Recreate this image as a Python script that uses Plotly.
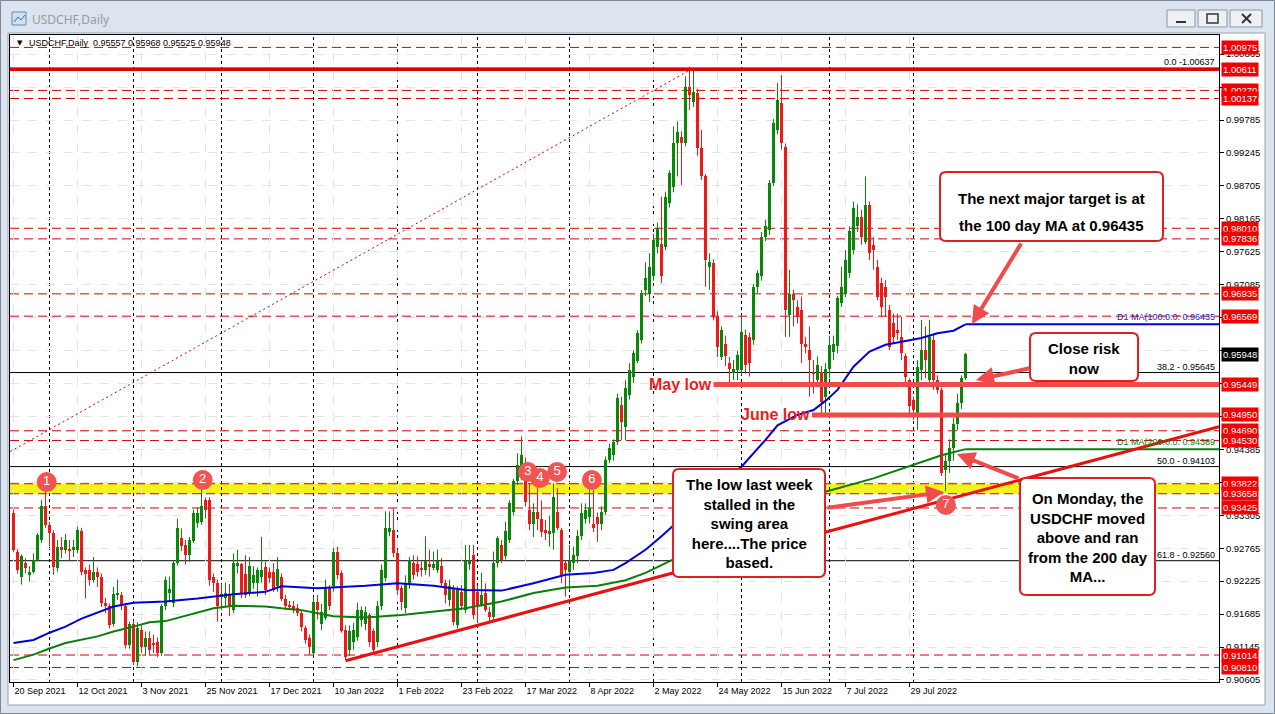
import plotly.graph_objects as go
import pandas as pd

# ---------------- data ----------------
opens = [
    .9334, .9271, .9230, .9252, .9233, .9238, .9257, .9290, .9345, .9315,
    .9301, .9244, .9279, .9273, .9276, .9273, .9273, .9304, .9240, .9240,
    .9224, .9237, .9230, .9186, .9181, .9153, .9200, .9200, .9181, .9118,
    .9153, .9090, .9143, .9115, .9130, .9120, .9122, .9104, .9181, .9203,
    .9186, .9252, .9293, .9282, .9265, .9288, .9318, .9320, .9355, .9356,
    .9230, .9220, .9196, .9195, .9200, .9175, .9247, .9250, .9235, .9203,
    .9220, .9220, .9230, .9246, .9238, .9238, .9214, .9230, .9194, .9184,
    .9181, .9178, .9170, .9145, .9130, .9104, .9189, .9153, .9162, .9211,
    .9214, .9271, .9236, .9143, .9110, .9123, .9131, .9159, .9153, .9167,
    .9140, .9123, .9181, .9227, .9303, .9307, .9268, .9211, .9178, .9219,
    .9252, .9250, .9244, .9241, .9250, .9244, .9241, .9247, .9219, .9192,
    .9211, .9151, .9205, .9175, .9252, .9265, .9205, .9184, .9203, .9172,
    .9164, .9252, .9282, .9263, .9290, .9336, .9386, .9396, .9413, .9339,
    .9317, .9336, .9325, .9306, .9301, .9301, .9336, .9306, .9252, .9238,
    .9252, .9263, .9296, .9325, .9328, .9317, .9328, .9317, .9336, .9421,
    .9430, .9451, .9511, .9476, .9528, .9558, .9583, .9618, .9700, .9694,
    .9722, .9771, .9776, .9771, .9842, .9869, .9940, .9951, .9940, 1.0033,
    1.0008, 1.0022, .9932, .9886, .9738, .9744, .9656, .9590, .9612, .9580,
    .9563, .9569, .9569, .9626, .9623, .9618, .9705, .9722, .9787, .9798,
    .9875, .9962, 1.0006, .9935, .9659, .9694, .9672, .9667, .9612, .9601,
    .9566, .9552, .9566, .9525, .9570, .9598, .9608, .9678, .9694, .9727,
    .9765, .9804, .9820, .9779, .9839, .9774, .9738, .9711, .9705, .9667,
    .9645, .9634, .9623, .9591, .9552, .9520, .9492, .9569, .9602, .9552,
    .9618, .9552, .9536, .9405, .9420, .9440, .9480, .9515, .95557,
]
highs = [
    .9340, .9275, .9266, .9260, .9247, .9268, .9301, .9356, .9372, .9320,
    .9306, .9290, .9295, .9300, .9290, .9290, .9312, .9310, .9245, .9250,
    .9262, .9245, .9235, .9195, .9186, .9213, .9225, .9205, .9186, .9156,
    .9158, .9155, .9150, .9140, .9140, .9135, .9130, .9185, .9230, .9230,
    .9257, .9325, .9309, .9290, .9295, .9340, .9343, .9373, .9360, .9360,
    .9235, .9225, .9218, .9220, .9218, .9268, .9274, .9252, .9265, .9262,
    .9247, .9245, .9295, .9255, .9245, .9252, .9262, .9235, .9200, .9190,
    .9190, .9185, .9175, .9150, .9135, .9196, .9200, .9185, .9225, .9216,
    .9277, .9279, .9240, .9150, .9150, .9154, .9187, .9181, .9181, .9170,
    .9145, .9190, .9250, .9337, .9337, .9342, .9275, .9215, .9232, .9262,
    .9265, .9263, .9255, .9296, .9274, .9271, .9274, .9260, .9225, .9225,
    .9216, .9214, .9216, .9282, .9282, .9282, .9214, .9236, .9219, .9180,
    .9271, .9296, .9290, .9320, .9355, .9390, .9432, .9460, .9425, .9383,
    .9350, .9377, .9355, .9323, .9330, .9383, .9375, .9310, .9257, .9282,
    .9279, .9306, .9350, .9350, .9375, .9372, .9335, .9345, .9427, .9448,
    .9455, .9530, .9525, .9552, .9580, .9601, .9634, .9700, .9745, .9760,
    .9792, .9810, .9853, .9861, .9896, .9968, .9976, .9960, 1.0050, 1.0066,
    1.0064, 1.0030, .9962, .9890, .9760, .9750, .9665, .9640, .9625, .9590,
    .9585, .9600, .9659, .9635, .9630, .9710, .9732, .9795, .9815, .9880,
    .9980, 1.0039, 1.0052, .9940, .9733, .9700, .9683, .9689, .9623, .9640,
    .9585, .9591, .9575, .9580, .9625, .9625, .9690, .9738, .9765, .9804,
    .9845, .9840, .9831, .9886, .9845, .9787, .9749, .9720, .9716, .9675,
    .9661, .9661, .9656, .9596, .9555, .9525, .9585, .9651, .9640, .9651,
    .9629, .9560, .9540, .9432, .9455, .9490, .9530, .9560, .95968,
]
lows = [
    .9270, .9235, .9217, .9235, .9222, .9235, .9255, .9285, .9310, .9279,
    .9233, .9238, .9260, .9268, .9255, .9262, .9268, .9232, .9194, .9215,
    .9220, .9213, .9180, .9170, .9145, .9148, .9192, .9175, .9112, .9112,
    .9085, .9083, .9105, .9100, .9100, .9105, .9098, .9100, .9175, .9190,
    .9180, .9248, .9272, .9250, .9254, .9285, .9310, .9315, .9325, .9215,
    .9205, .9156, .9175, .9180, .9165, .9170, .9235, .9195, .9195, .9198,
    .9210, .9197, .9220, .9200, .9220, .9205, .9205, .9190, .9175, .9175,
    .9170, .9165, .9140, .9120, .9102, .9100, .9160, .9142, .9159, .9175,
    .9205, .9225, .9138, .9093, .9100, .9110, .9125, .9148, .9142, .9115,
    .9104, .9115, .9175, .9222, .9296, .9262, .9200, .9175, .9170, .9210,
    .9225, .9230, .9230, .9233, .9230, .9240, .9236, .9214, .9186, .9181,
    .9150, .9145, .9175, .9170, .9241, .9160, .9154, .9181, .9172, .9155,
    .9159, .9245, .9252, .9258, .9285, .9330, .9380, .9388, .9345, .9306,
    .9295, .9306, .9295, .9290, .9279, .9274, .9306, .9219, .9197, .9208,
    .9241, .9252, .9290, .9317, .9317, .9303, .9287, .9306, .9331, .9416,
    .9420, .9446, .9454, .9454, .9520, .9547, .9580, .9612, .9690, .9680,
    .9715, .9760, .9711, .9765, .9835, .9860, .9886, .9872, .9935, .9995,
    1.0000, .9920, .9880, .9705, .9700, .9650, .9590, .9585, .9575, .9545,
    .9552, .9552, .9560, .9563, .9558, .9610, .9695, .9715, .9780, .9790,
    .9870, .9955, .9930, .9623, .9623, .9640, .9645, .9580, .9596, .9525,
    .9530, .9541, .9496, .9495, .9555, .9585, .9596, .9672, .9688, .9720,
    .9758, .9795, .9774, .9775, .9749, .9733, .9683, .9656, .9656, .9601,
    .9612, .9618, .9585, .9547, .9498, .9487, .9470, .9552, .9555, .9541,
    .9536, .9530, .9395, .9370, .9400, .9420, .9470, .9505, .95525,
]
closes = [
    .9274, .9241, .9263, .9244, .9238, .9257, .9298, .9345, .9315, .9301,
    .9246, .9279, .9273, .9290, .9273, .9279, .9306, .9238, .9234, .9224,
    .9237, .9230, .9186, .9181, .9151, .9202, .9203, .9181, .9118, .9153,
    .9090, .9145, .9115, .9130, .9110, .9118, .9104, .9181, .9224, .9210,
    .9252, .9309, .9280, .9265, .9290, .9334, .9334, .9345, .9339, .9224,
    .9220, .9181, .9202, .9203, .9181, .9252, .9252, .9203, .9200, .9247,
    .9232, .9241, .9241, .9208, .9227, .9208, .9243, .9194, .9181, .9181,
    .9175, .9170, .9148, .9126, .9115, .9189, .9175, .9172, .9211, .9181,
    .9271, .9233, .9140, .9098, .9140, .9143, .9175, .9175, .9172, .9123,
    .9110, .9181, .9241, .9309, .9309, .9268, .9208, .9189, .9219, .9257,
    .9233, .9238, .9241, .9255, .9247, .9250, .9255, .9219, .9200, .9214,
    .9156, .9208, .9181, .9255, .9255, .9167, .9181, .9200, .9175, .9164,
    .9252, .9293, .9258, .9304, .9350, .9386, .9413, .9430, .9353, .9317,
    .9336, .9325, .9303, .9301, .9304, .9361, .9309, .9233, .9241, .9255,
    .9265, .9296, .9334, .9339, .9342, .9309, .9317, .9336, .9421, .9440,
    .9451, .9522, .9484, .9539, .9569, .9596, .9629, .9695, .9719, .9738,
    .9782, .9801, .9722, .9853, .9891, .9940, .9959, .9940, 1.0033, 1.0020,
    1.0025, .9932, .9886, .9749, .9746, .9656, .9607, .9634, .9591, .9571,
    .9571, .9593, .9631, .9577, .9580, .9705, .9727, .9787, .9804, .9875,
    .9973, 1.0011, .9940, .9667, .9694, .9683, .9656, .9612, .9607, .9585,
    .9563, .9577, .9517, .9570, .9610, .9612, .9686, .9705, .9749, .9796,
    .9834, .9820, .9787, .9839, .9760, .9765, .9689, .9672, .9689, .9607,
    .9623, .9629, .9596, .9558, .9509, .9503, .9574, .9602, .9585, .9623,
    .9552, .9536, .9400, .9420, .9440, .9480, .9515, .9556, .95948,
]

# moving averages (bar index, value)
ma100_idx = [0, 5, 9, 13, 17, 21, 25, 30, 38, 46, 55, 63, 67, 76, 88, 96, 105, 113,
             122, 130, 138, 145, 150, 153, 158, 162, 165, 172, 177, 182, 188, 191,
             196, 200, 203, 206, 210, 214, 218, 222, 227, 231, 235, 238]
ma100_val = [.9121, .9126, .9138, .9148, .9161, .9171, .9181, .9187, .9189, .9194,
             .9201, .9205, .9214, .9211, .9215, .9219, .9215, .9208, .9207, .9219,
             .9233, .9236, .9241, .9252, .9274, .9296, .9314, .9355, .9385, .9410,
             .9454, .9478, .9495, .9503, .9518, .9536, .9574, .9599, .9610, .9615,
             .9621, .9629, .9633, .96435]
ma200_idx = [0, 5, 9, 13, 21, 25, 30, 34, 38, 42, 46, 50, 55, 63, 67, 72, 80, 88, 97,
             105, 113, 117, 122, 130, 138, 146, 153, 158, 165, 175, 185, 195, 203,
             215, 225, 232, 238]
ma200_val = [.9093, .9102, .9112, .9121, .9132, .9140, .9148, .9155, .9157, .9164,
             .9170, .9178, .9182, .9181, .9178, .9175, .9165, .9163, .9167, .9173,
             .9178, .9183, .9189, .9203, .9212, .9215, .9224, .9236, .9258, .9290,
             .9325, .9350, .9369, .9391, .9413, .9429, .94389]
ma100_text = "D1 MA(100:0:0: 0.96435"
ma200_text = "D1 MA(200:0:0: 0.94389"

trend_idx = [83, 301.375]
trend_val = [0.90921, 0.94757]

fib_anchor_idx = [-185, 170]
fib_anchor_val = [0.87569, 1.00637]
fib_levels = [1.00637, 0.95645, 0.94103, 0.92560]
fib_texts = ["0.0 -1.00637", "38.2 - 0.95645", "50.0 - 0.94103", "61.8 - 0.92560"]

x_tick_labels = ["20 Sep 2021", "12 Oct 2021", "3 Nov 2021", "25 Nov 2021",
                 "17 Dec 2021", "10 Jan 2022", "1 Feb 2022", "23 Feb 2022",
                 "17 Mar 2022", "8 Apr 2022", "2 May 2022", "24 May 2022",
                 "15 Jun 2022", "7 Jul 2022", "29 Jul 2022"]
y_tick_values = ["0.90605", "0.91145", "0.91685", "0.92225", "0.92765", "0.93305",
                 "0.93845", "0.94385", "0.94925", "0.95465", "0.96005", "0.96545",
                 "0.97085", "0.97625", "0.98165", "0.98705", "0.99245", "0.99785",
                 "1.00325", "1.00865"]
# tick labels fully covered by price tags in the reference
y_tick_hidden = ["0.93845", "0.94925", "0.95465", "0.96005", "0.96545", "1.00325"]

dashed_levels = [1.00975, 1.00270, 1.00137, 0.98010, 0.97836, 0.96935, 0.96569,
                 0.94690, 0.94530, 0.93822, 0.93658, 0.93425, 0.91014, 0.90810]
thick_level = 1.00611
band_levels = [0.93658, 0.93822]
support_levels = [0.95449, 0.94950]
support_start_idx = [175, 199.6]
support_names = ["May low", "June low"]
price_tags = [1.00975, 1.00611, 1.00270, 1.00137, 0.98010, 0.97836, 0.96935, 0.96569,
              0.95449, 0.94950, 0.94690, 0.94530, 0.93822, 0.93658, 0.93425,
              0.91014, 0.90810]
last_price = 0.95948

swing_labels = ["1", "2", "3", "4", "5", "6", "7"]
swing_idx = [8.3, 47.3, 128.6, 131.6, 135.9, 144.6, 233.1]
swing_val = [0.93851, 0.93883, 0.94015, 0.93916, 0.94015, 0.93883, 0.93474]

header_text = "USDCHF,Daily  0.95557 0.95968 0.95525 0.95948"

# ---------------- geometry helpers ----------------
W, H = 1275, 714
L, R, T, B = 10, 56, 35, 32
PW, PH = W - L - R, H - T - B
X_MIN, X_MAX = -0.875, 301.375
Y_MIN, Y_MAX = 0.905718, 1.011784


def PX(x):
    return (x - L) / PW


def PY(y):
    return (H - B - y) / PH


FONT = "Liberation Sans, Arial, sans-serif"
RED_DASH = "#d80000"
SALMON = "#f04a4a"

dates = pd.bdate_range("2021-09-20", periods=len(closes))
month_sep = [i for i in range(1, len(dates)) if dates[i].month != dates[i - 1].month]

fig = go.Figure()
shapes = []
annotations = []

# window chrome
shapes.append(dict(type="rect", xref="paper", yref="paper", x0=PX(8), x1=PX(1265),
                   y0=PY(705), y1=PY(33), fillcolor="white",
                   line=dict(color="#98a4b3", width=1), layer="below"))
shapes.append(dict(type="rect", xref="paper", yref="paper", x0=PX(0.5), x1=PX(1274.5),
                   y0=PY(713.5), y1=PY(0.5), line=dict(color="#7c8797", width=1),
                   layer="above"))
shapes.append(dict(type="rect", xref="paper", yref="paper", x0=PX(12), x1=PX(26),
                   y0=PY(25), y1=PY(12), fillcolor="#cfe0f2",
                   line=dict(color="#6f88a8", width=1), layer="above"))
shapes.append(dict(type="path", xref="paper", yref="paper",
                   path="M {},{} L {},{} L {},{} L {},{}".format(
                       PX(14), PY(22), PX(18), PY(17), PX(21), PY(20), PX(25), PY(15)),
                   line=dict(color="#4a6a94", width=1), layer="above"))
annotations.append(dict(xref="paper", yref="paper", x=PX(30), y=PY(19), xanchor="left",
                        yanchor="middle", text="USDCHF,Daily", showarrow=False,
                        font=dict(family="Noto Sans, sans-serif", size=12, color="#9a9a9a")))
for bx0, bx1 in [(1167, 1195), (1198, 1227), (1230, 1262)]:
    shapes.append(dict(type="rect", xref="paper", yref="paper", x0=PX(bx0), x1=PX(bx1),
                       y0=PY(27), y1=PY(10), fillcolor="#edf1f6",
                       line=dict(color="#8a95a3", width=1), layer="above"))
shapes.append(dict(type="line", xref="paper", yref="paper", x0=PX(1176), x1=PX(1186),
                   y0=PY(22), y1=PY(22), line=dict(color="#333", width=2), layer="above"))
shapes.append(dict(type="rect", xref="paper", yref="paper", x0=PX(1207), x1=PX(1218),
                   y0=PY(23), y1=PY(14), line=dict(color="#333", width=1.5), layer="above"))
shapes.append(dict(type="line", xref="paper", yref="paper", x0=PX(1242), x1=PX(1251),
                   y0=PY(14), y1=PY(23), line=dict(color="#333", width=2), layer="above"))
shapes.append(dict(type="line", xref="paper", yref="paper", x0=PX(1242), x1=PX(1251),
                   y0=PY(23), y1=PY(14), line=dict(color="#333", width=2), layer="above"))

# yellow swing band
shapes.append(dict(type="rect", xref="paper", yref="y", x0=0, x1=1,
                   y0=band_levels[0], y1=band_levels[1], fillcolor="#f2f21c",
                   line=dict(width=0), layer="below"))
# month separators
for i in month_sep:
    shapes.append(dict(type="line", xref="x", yref="paper", x0=i, x1=i, y0=0, y1=1,
                       line=dict(color="black", width=1, dash="3px,3px"), layer="below"))
# dashed horizontal levels
for lv in dashed_levels:
    shapes.append(dict(type="line", xref="paper", yref="y", x0=0, x1=1, y0=lv, y1=lv,
                       line=dict(color=RED_DASH, width=1, dash="9px,5px"), layer="below"))
# fib level lines
for lv in fib_levels:
    shapes.append(dict(type="line", xref="paper", yref="y", x0=0, x1=1, y0=lv, y1=lv,
                       line=dict(color="black", width=1), layer="below"))
# thick solid red level
shapes.append(dict(type="line", xref="paper", yref="y", x0=0, x1=1, y0=thick_level,
                   y1=thick_level, line=dict(color="#e00000", width=3), layer="above"))
# support rays
for lv, st in zip(support_levels, support_start_idx):
    shapes.append(dict(type="line", xref="x", yref="y", x0=st, x1=X_MAX, y0=lv, y1=lv,
                       line=dict(color=SALMON, width=5), layer="above"))

# candles
bull = [c >= o for o, c in zip(opens, closes)]
body_base = [min(o, c) for o, c in zip(opens, closes)]
body_h = [max(abs(c - o), 0.00004) for o, c in zip(opens, closes)]
GREEN, REDC = "#0a870a", "#ee1a1a"
for flag, col in [(True, GREEN), (False, REDC)]:
    wx, wy = [], []
    for i in range(len(closes)):
        if bull[i] == flag:
            wx += [i, i, None]
            wy += [lows[i], highs[i], None]
    fig.add_trace(go.Scatter(x=wx, y=wy, mode="lines", line=dict(color=col, width=1),
                             hoverinfo="skip", showlegend=False))
fig.add_trace(go.Bar(x=list(range(len(closes))), y=body_h, base=body_base, width=0.75,
                     marker=dict(color=[GREEN if b else REDC for b in bull], line=dict(width=0)),
                     hoverinfo="skip", showlegend=False))

# fib diagonal
fig.add_trace(go.Scatter(x=fib_anchor_idx, y=fib_anchor_val, mode="lines",
                         line=dict(color="#d00000", width=1, dash="2px,3px"),
                         hoverinfo="skip", showlegend=False))
# moving averages
fig.add_trace(go.Scatter(x=ma200_idx, y=ma200_val, mode="lines",
                         line=dict(color="#0a7d0a", width=2), hoverinfo="skip", showlegend=False))
fig.add_trace(go.Scatter(x=[ma200_idx[-1], X_MAX], y=[ma200_val[-1], ma200_val[-1]], mode="lines",
                         line=dict(color="#0a7d0a", width=2), hoverinfo="skip", showlegend=False))
fig.add_trace(go.Scatter(x=ma100_idx, y=ma100_val, mode="lines",
                         line=dict(color="#0000d8", width=2), hoverinfo="skip", showlegend=False))
fig.add_trace(go.Scatter(x=[ma100_idx[-1], X_MAX], y=[ma100_val[-1], ma100_val[-1]], mode="lines",
                         line=dict(color="#0000d8", width=2), hoverinfo="skip", showlegend=False))
# trendline
fig.add_trace(go.Scatter(x=trend_idx, y=trend_val, mode="lines",
                         line=dict(color="#e81010", width=3), hoverinfo="skip", showlegend=False))
# swing markers
fig.add_trace(go.Scatter(x=swing_idx, y=swing_val, mode="markers+text", text=swing_labels,
                         textposition="middle center", cliponaxis=False,
                         textfont=dict(family=FONT, size=13, color="white"),
                         marker=dict(size=20, color="#f25454", line=dict(width=0)),
                         hoverinfo="skip", showlegend=False))

# support names
for lv, st, nm in zip(support_levels, support_start_idx, support_names):
    annotations.append(dict(x=st, y=lv, xref="x", yref="y", xanchor="right", yanchor="middle",
                            text="<b>" + nm + "</b>", showarrow=False,
                            font=dict(family=FONT, size=16, color="#ee1c1c")))
# fib texts
for lv, tx in zip(fib_levels, fib_texts):
    annotations.append(dict(x=PX(1217), y=lv, xref="paper", yref="y", xanchor="right",
                            yanchor="bottom", text=tx, showarrow=False, yshift=-1,
                            font=dict(family=FONT, size=9, color="black")))
annotations.append(dict(x=PX(1217), y=ma100_val[-1], xref="paper", yref="y", xanchor="right",
                        yanchor="bottom", text=ma100_text, showarrow=False,
                        font=dict(family=FONT, size=9, color="#2020d0")))
annotations.append(dict(x=PX(1217), y=ma200_val[-1], xref="paper", yref="y", xanchor="right",
                        yanchor="bottom", text=ma200_text, showarrow=False,
                        font=dict(family=FONT, size=9, color="#0a7d0a")))
# price tags on the right
for lv in price_tags:
    annotations.append(dict(x=PX(1221), y=lv, xref="paper", yref="y", xanchor="left",
                            yanchor="middle", text="{:.5f}".format(lv), showarrow=False,
                            bgcolor="#f00000", borderpad=1,
                            font=dict(family=FONT, size=9.5, color="white")))
annotations.append(dict(x=PX(1221), y=last_price, xref="paper", yref="y", xanchor="left",
                        yanchor="middle", text="{:.5f}".format(last_price), showarrow=False,
                        bgcolor="black", borderpad=1,
                        font=dict(family=FONT, size=9.5, color="white")))
# header
annotations.append(dict(xref="paper", yref="paper", x=PX(15), y=PY(43), xanchor="left",
                        yanchor="middle", text="▼", showarrow=False,
                        font=dict(family="DejaVu Sans", size=7, color="black")))
annotations.append(dict(xref="paper", yref="paper", x=PX(27), y=PY(43), xanchor="left",
                        yanchor="middle", text=header_text, showarrow=False,
                        font=dict(family=FONT, size=9, color="black")))


# comment boxes
def rrect(x0, y0, x1, y1, r=6):
    pts = [("M", x0 + r, y0), ("L", x1 - r, y0), ("Q", x1, y0, x1, y0 + r),
           ("L", x1, y1 - r), ("Q", x1, y1, x1 - r, y1), ("L", x0 + r, y1),
           ("Q", x0, y1, x0, y1 - r), ("L", x0, y0 + r), ("Q", x0, y0, x0 + r, y0)]
    s = ""
    for p in pts:
        if p[0] == "Q":
            s += "Q {},{} {},{} ".format(PX(p[1]), PY(p[2]), PX(p[3]), PY(p[4]))
        else:
            s += "{} {},{} ".format(p[0], PX(p[1]), PY(p[2]))
    return s + "Z"


boxes = [
    (940, 172, 1163, 241, [("The next major target is at", 199), ("the 100 day MA at 0.96435", 226)]),
    (1030, 333, 1138, 381, [("Close risk<br>now", 358)]),
    (673, 469, 825, 577, [("The low last week<br>stalled in the<br>swing area<br>here....The price<br>based.", 523)]),
    (1020, 478, 1155, 595, [("On Monday, the<br>USDCHF moved<br>above and ran<br>from the 200 day<br>MA...", 537)]),
]
for x0, y0, x1, y1, lines in boxes:
    shapes.append(dict(type="path", xref="paper", yref="paper", path=rrect(x0, y0, x1, y1),
                       fillcolor="white", line=dict(color="#e02020", width=2), layer="above"))
    for txt, yc in lines:
        annotations.append(dict(xref="paper", yref="paper", x=PX((x0 + x1) / 2), y=PY(yc),
                                xanchor="center", yanchor="middle", text="<b>" + txt + "</b>",
                                showarrow=False,
                                font=dict(family=FONT, size=15, color="black")))

# arrows (tail -> head, pixels)
arrows = [((1022, 242), (972, 324)), ((1031, 368), (976, 380)),
          ((1020, 479), (957, 454)), ((826, 508), (944, 492))]
for (tx, ty), (hx, hy) in arrows:
    annotations.append(dict(xref="paper", yref="paper", x=PX(hx), y=PY(hy), ax=tx - hx,
                            ay=ty - hy, text="", showarrow=True, arrowhead=2, arrowsize=0.9,
                            arrowwidth=4, arrowcolor=SALMON, standoff=0))

fig.update_layout(
    width=W, height=H, autosize=False,
    margin=dict(l=L, r=R, t=T, b=B, pad=0),
    paper_bgcolor="#dbe4ef", plot_bgcolor="white",
    showlegend=False, hovermode=False, bargap=0,
    xaxis=dict(range=[X_MIN, X_MAX], tickmode="array",
               tickvals=[16 * k for k in range(len(x_tick_labels))], ticktext=x_tick_labels,
               ticks="outside", ticklen=4, tickcolor="black",
               ticklabelposition="outside right",
               tickfont=dict(family=FONT, size=9, color="black"),
               showline=True, linecolor="black", linewidth=1, mirror=True,
               showgrid=True, gridcolor="#e4e4e4", griddash="dash", zeroline=False),
    yaxis=dict(range=[Y_MIN, Y_MAX], side="right", tickmode="array",
               tickvals=[float(v) for v in y_tick_values],
               ticktext=["" if v in y_tick_hidden else v for v in y_tick_values],
               ticks="outside", ticklen=4, tickcolor="black",
               tickfont=dict(family=FONT, size=9.5, color="black"),
               showline=True, linecolor="black", linewidth=1, mirror=True,
               showgrid=True, gridcolor="#e4e4e4", griddash="dash", zeroline=False),
    shapes=shapes, annotations=annotations,
)

fig.write_html("out.html", config={"displayModeBar": False},
               post_script="document.body.style.margin='0px';document.body.style.overflow='hidden';")
